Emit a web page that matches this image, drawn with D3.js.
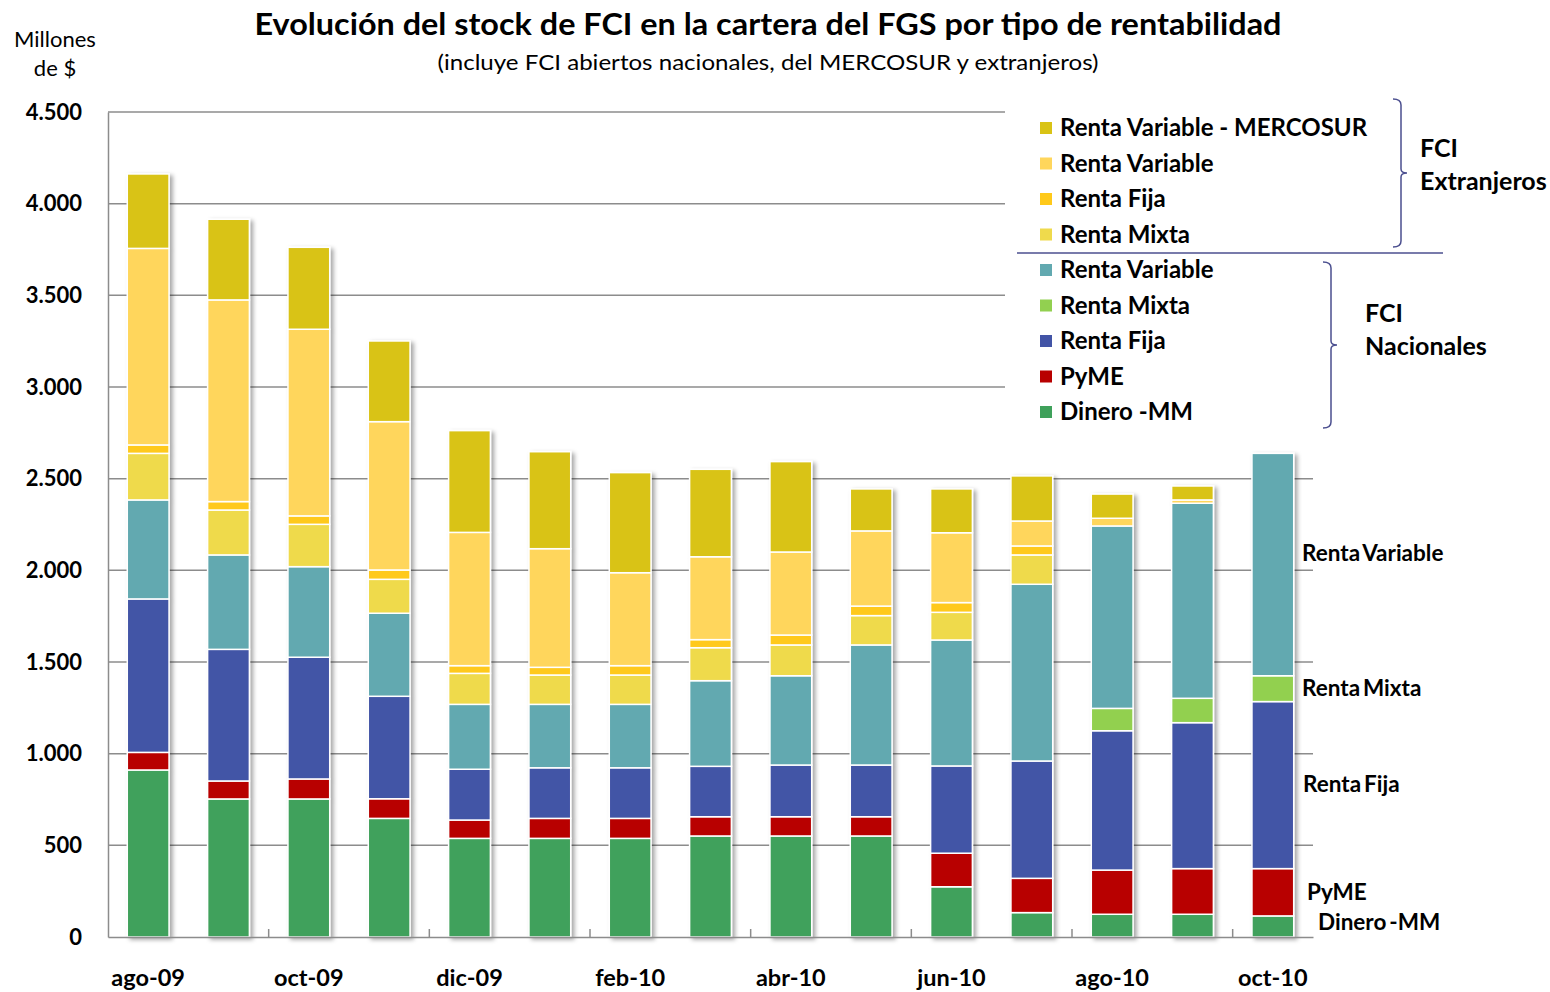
<!DOCTYPE html>
<html>
<head>
<meta charset="utf-8">
<script src="https://cdn.jsdelivr.net/npm/d3@7"></script>
<style>
  body { margin: 0; background: #fff; }
  svg { font-family: Lato, "Open Sans", sans-serif; }
</style>
</head>
<body>
<div id="chart"></div>
<script>
// meses
const meses = ["ago-09", "sep-09", "oct-09", "nov-09", "dic-09", "ene-10", "feb-10", "mar-10",
  "abr-10", "may-10", "jun-10", "jul-10", "ago-10", "sep-10", "oct-10"];

// FCI Nacionales (millones de $)
const dineroMM = [911, 753, 753, 647, 538, 538, 538, 551, 551, 551, 274, 133, 124, 124, 115];
const pyme = [96, 98, 109, 107, 100, 109, 109, 105, 105, 105, 183, 187, 241, 249, 258];
const rentaFijaN = [837, 718, 664, 559, 277, 276, 276, 275, 282, 282, 476, 640, 760, 796, 911];
const rentaMixtaN = [0, 0, 0, 0, 0, 0, 0, 0, 0, 0, 0, 0, 122, 133, 141];
const rentaVariableN = [540, 515, 494, 453, 354, 346, 346, 467, 487, 655, 687, 964, 995, 1064, 1213];
// FCI Extranjeros
const rentaMixtaE = [254, 245, 231, 185, 169, 160, 160, 180, 168, 160, 151, 160, 0, 0, 0];
const rentaFijaE = [46, 46, 46, 51, 42, 42, 51, 44, 54, 52, 53, 49, 0, 0, 0];
const rentaVariableE = [1072, 1100, 1018, 809, 727, 647, 507, 452, 453, 410, 381, 136, 42, 18, 0];
const rvMercosur = [406, 440, 447, 440, 555, 529, 546, 477, 493, 229, 239, 246, 132, 76, 0];

const yTicks = [0, 500, 1000, 1500, 2000, 2500, 3000, 3500, 4000, 4500];
const xLabels = ["ago-09", "oct-09", "dic-09", "feb-10", "abr-10", "jun-10", "ago-10", "oct-10"];

const series = [
  { key: "dinero", vals: dineroMM, color: "#3FA15B" },
  { key: "pyme", vals: pyme, color: "#B80000" },
  { key: "fijaN", vals: rentaFijaN, color: "#4254A6" },
  { key: "mixtaN", vals: rentaMixtaN, color: "#92D050" },
  { key: "varN", vals: rentaVariableN, color: "#62A9B0" },
  { key: "mixtaE", vals: rentaMixtaE, color: "#EFDA4C" },
  { key: "fijaE", vals: rentaFijaE, color: "#FFC91A" },
  { key: "varE", vals: rentaVariableE, color: "#FFD65C" },
  { key: "merco", vals: rvMercosur, color: "#D9C315" }
];
const colorOf = {};
series.forEach(s => colorOf[s.key] = s.color);

// tabla para d3.stack
const tabla = meses.map((m, i) => {
  const row = { mes: m };
  series.forEach(s => row[s.key] = s.vals[i]);
  return row;
});

const W = 1550, H = 992;
const mIzq = 108, mDer = 1313, mSup = 112, mInf = 937;

const svg = d3.select("#chart").append("svg")
  .attr("width", W)
  .attr("height", H);

const defs = svg.append("defs");
defs.append("filter").attr("id", "sombra")
  .attr("x", "-20%").attr("y", "-5%").attr("width", "150%").attr("height", "110%")
  .append("feDropShadow")
  .attr("dx", 3).attr("dy", 2).attr("stdDeviation", 2)
  .attr("flood-color", "#000").attr("flood-opacity", 0.35);

const x = d3.scaleBand().domain(meses).range([mIzq, mDer]).paddingInner(0.48).paddingOuter(0.24);
const y = d3.scaleLinear().domain([0, 4500]).range([mInf, mSup]);

// grilla
svg.append("g")
  .selectAll("line")
  .data(yTicks.filter(d => d > 0))
  .join("line")
  .attr("x1", mIzq).attr("x2", mDer)
  .attr("y1", d => y(d)).attr("y2", d => y(d))
  .attr("stroke", "#8c8c8c").attr("stroke-width", 1.5);

// eje y
const yAxis = svg.append("g")
  .attr("transform", `translate(${mIzq},0)`)
  .call(d3.axisLeft(y).tickValues(yTicks).tickSize(0).tickPadding(26)
    .tickFormat(d => d3.format(",")(d).replace(",", ".")));
yAxis.select(".domain").attr("stroke", "#8c8c8c").attr("stroke-width", 1.5);
yAxis.selectAll("text")
  .attr("font-size", 22).attr("font-weight", "bold").attr("fill", "#000")
  .attr("font-family", "Lato, sans-serif");

// barras apiladas
const stack = d3.stack().keys(series.map(s => s.key));
const capas = stack(tabla);

const barras = svg.append("g").attr("filter", "url(#sombra)");
barras.selectAll("g")
  .data(capas)
  .join("g")
  .attr("fill", d => colorOf[d.key])
  .selectAll("rect")
  .data(d => d.filter(p => p[1] - p[0] > 0))
  .join("rect")
  .attr("x", d => x(d.data.mes))
  .attr("width", x.bandwidth())
  .attr("y", d => y(d[1]))
  .attr("height", d => y(d[0]) - y(d[1]))
  .attr("stroke", "#fff")
  .attr("stroke-width", 1.5);

// eje x
const xAxis = svg.append("g")
  .attr("transform", `translate(0,${mInf})`)
  .call(d3.axisBottom(x).tickValues(xLabels).tickSize(0).tickPadding(32));
xAxis.select(".domain").attr("stroke", "#8c8c8c").attr("stroke-width", 1.5);
xAxis.selectAll("text")
  .attr("font-size", 23.5).attr("font-weight", "bold").attr("fill", "#000")
  .attr("font-family", "Lato, sans-serif");

// marcas cada dos meses
const step = x.step();
svg.append("g")
  .selectAll("line")
  .data(d3.range(2, meses.length, 2))
  .join("line")
  .attr("x1", i => mIzq + i * step).attr("x2", i => mIzq + i * step)
  .attr("y1", mInf).attr("y2", mInf - 8)
  .attr("stroke", "#8c8c8c").attr("stroke-width", 1.5);

// títulos
svg.append("text")
  .attr("x", 768).attr("y", 35)
  .attr("text-anchor", "middle")
  .attr("font-size", 30).attr("font-weight", "bold")
  .attr("textLength", 1027).attr("lengthAdjust", "spacingAndGlyphs")
  .text("Evolución del stock de FCI en la cartera del FGS por tipo de rentabilidad");
svg.append("text")
  .attr("x", 768).attr("y", 70)
  .attr("text-anchor", "middle")
  .attr("font-size", 22)
  .attr("textLength", 661).attr("lengthAdjust", "spacingAndGlyphs")
  .text("(incluye FCI abiertos nacionales, del MERCOSUR y extranjeros)");
svg.append("text")
  .attr("x", 55).attr("y", 47)
  .attr("text-anchor", "middle").attr("font-size", 22)
  .text("Millones");
svg.append("text")
  .attr("x", 55).attr("y", 76)
  .attr("text-anchor", "middle").attr("font-size", 22)
  .text("de $");

// leyenda
const legendItems = [
  { label: "Renta Variable - MERCOSUR", key: "merco" },
  { label: "Renta Variable", key: "varE" },
  { label: "Renta Fija", key: "fijaE" },
  { label: "Renta Mixta", key: "mixtaE" },
  { label: "Renta Variable", key: "varN" },
  { label: "Renta Mixta", key: "mixtaN" },
  { label: "Renta Fija", key: "fijaN" },
  { label: "PyME", key: "pyme" },
  { label: "Dinero -MM", key: "dinero" }
];

const leyenda = svg.append("g");
leyenda.append("rect")
  .attr("x", 1005).attr("y", 100).attr("width", 318).attr("height", 333)
  .attr("fill", "#fff");

const legY = d3.scalePoint().domain(d3.range(legendItems.length)).range([128, 412]);
const li = leyenda.selectAll("g.item")
  .data(legendItems)
  .join("g").attr("class", "item")
  .attr("transform", (d, i) => `translate(1040,${legY(i)})`);
li.append("rect")
  .attr("x", 0).attr("y", -6).attr("width", 12).attr("height", 12)
  .attr("fill", d => colorOf[d.key]);
li.append("text")
  .attr("x", 20).attr("y", 8)
  .attr("font-size", 24).attr("font-weight", "bold")
  .text(d => d.label);

leyenda.append("line")
  .attr("x1", 1017).attr("x2", 1443).attr("y1", 253).attr("y2", 253)
  .attr("stroke", "#4B4F8F").attr("stroke-width", 1.5);

// llaves
function llave(xx, y0, y1, w) {
  const ym = (y0 + y1) / 2;
  return `M${xx},${y0} Q${xx + w},${y0} ${xx + w},${y0 + 6} L${xx + w},${ym - 4} Q${xx + w},${ym} ${xx + w + 6},${ym}` +
    ` Q${xx + w},${ym} ${xx + w},${ym + 4} L${xx + w},${y1 - 6} Q${xx + w},${y1} ${xx},${y1}`;
}
leyenda.append("path")
  .attr("d", llave(1393, 99, 247, 8))
  .attr("fill", "none").attr("stroke", "#4B4F8F").attr("stroke-width", 1.5);
leyenda.append("path")
  .attr("d", llave(1323, 262, 428, 8))
  .attr("fill", "none").attr("stroke", "#4B4F8F").attr("stroke-width", 1.5);

const grupos = [
  { lines: ["FCI", "Extranjeros"], x: 1420, y: 157 },
  { lines: ["FCI", "Nacionales"], x: 1365, y: 322 }
];
grupos.forEach(g => {
  g.lines.forEach((t, i) => {
    svg.append("text")
      .attr("x", g.x).attr("y", g.y + i * 33)
      .attr("font-size", 25).attr("font-weight", "bold")
      .text(t);
  });
});

// etiquetas a la derecha
const etiquetas = [
  { t: "Renta Variable", x: 1302, y: 561 },
  { t: "Renta Mixta", x: 1302, y: 696 },
  { t: "Renta Fija", x: 1303, y: 792 },
  { t: "PyME", x: 1307, y: 900 },
  { t: "Dinero -MM", x: 1318, y: 930 }
];
svg.append("g").selectAll("text")
  .data(etiquetas)
  .join("text")
  .attr("x", d => d.x).attr("y", d => d.y)
  .attr("font-size", 22.5).attr("font-weight", "bold")
  .attr("word-spacing", -2.5)
  .text(d => d.t);
</script>
</body>
</html>
